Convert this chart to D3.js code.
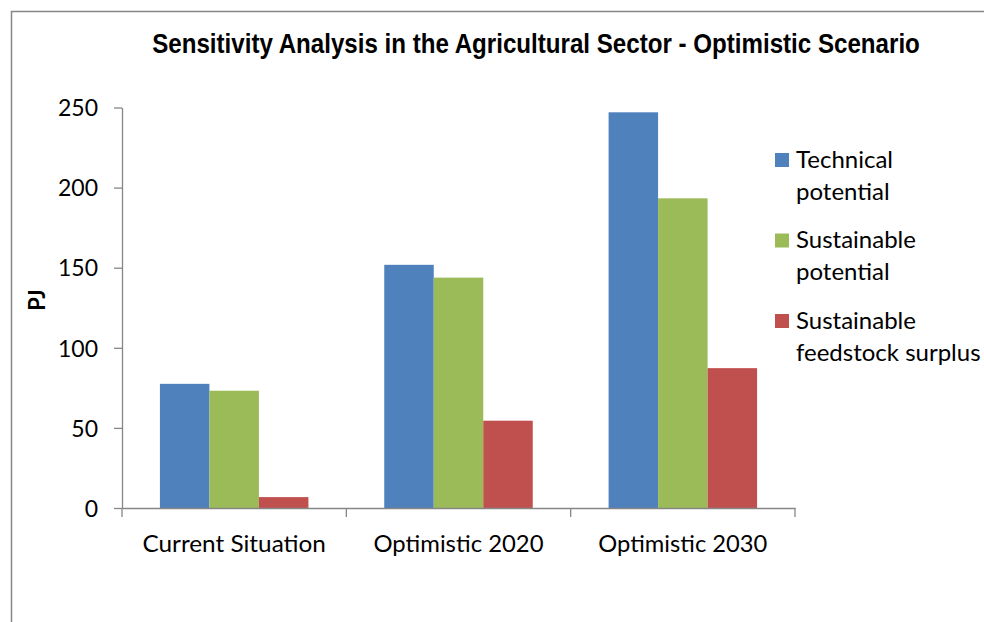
<!DOCTYPE html>
<html><head><meta charset="utf-8">
<script src="https://cdn.jsdelivr.net/npm/d3@7"></script>
<style>body{margin:0;background:#fff}svg{display:block}</style>
</head><body>
<script>
const categories = ["Current Situation", "Optimistic 2020", "Optimistic 2030"];
const seriesNames = [["Technical", "potential"], ["Sustainable", "potential"], ["Sustainable", "feedstock surplus"]];
const technical = [77.5, 151.8, 247];
const sustainable = [73.2, 143.8, 193.3];
const surplus = [6.8, 54.5, 87.3];
const yTicks = [0, 50, 100, 150, 200, 250];
const colors = ["#4F81BD", "#9BBB59", "#C0504D"];
const series = [technical, sustainable, surplus];

(function(){
const W = 984, H = 622;
const svg = d3.select("body").append("svg").attr("width", W).attr("height", H);
const font = "Lato, 'Open Sans', sans-serif";

svg.append("path").attr("d", `M11.5,${H} V11.5 H${W}`).attr("fill", "none").attr("stroke", "#868686").attr("stroke-width", 1.5);

const mL = 122, mR = 795, mT = 107.5, mB = 508;
const x = d3.scaleBand().domain(categories).range([mL, mR]).paddingInner(0).paddingOuter(0);
const inner = d3.scaleBand().domain([0,1,2]).range([0, x.bandwidth()]).paddingInner(0).paddingOuter(0.766);
const y = d3.scaleLinear().domain([0, 250]).range([mB, mT]);

series.forEach((s, si) => {
  svg.append("g").selectAll("rect").data(categories).join("rect")
    .attr("x", c => x(c) + inner(si))
    .attr("y", (c, i) => y(s[i]))
    .attr("width", inner.bandwidth())
    .attr("height", (c, i) => y(0) - y(s[i]))
    .attr("fill", colors[si]);
});

const yAxis = svg.append("g").attr("transform", `translate(${mL},0)`)
  .call(d3.axisLeft(y).tickValues(yTicks).tickSize(8).tickPadding(16).tickSizeOuter(0));
yAxis.select(".domain").attr("stroke", "#868686").attr("stroke-width", 1.3);
yAxis.selectAll(".tick line").attr("stroke", "#868686").attr("stroke-width", 1.3);
yAxis.selectAll("text").attr("font-family", font).attr("font-size", 23).attr("fill", "#000")
  .attr("dy", "0.36em");

const xAxis = svg.append("g").attr("transform", `translate(0,${mB})`)
  .call(d3.axisBottom(x).tickSize(0));
xAxis.select(".domain").attr("stroke", "#868686").attr("stroke-width", 1.3);
xAxis.selectAll("text").attr("font-family", font).attr("font-size", 23).attr("fill", "#000")
  .attr("y", 43.7).attr("dy", 0)
  .attr("textLength", (d, i) => [183.5, 170, 169][i]).attr("lengthAdjust", "spacingAndGlyphs");
const bounds = [mL].concat(categories.map(c => x(c) + x.bandwidth()));
svg.append("g").selectAll("line").data(bounds).join("line")
  .attr("x1", d => d).attr("x2", d => d).attr("y1", mB).attr("y2", mB + 9)
  .attr("stroke", "#868686").attr("stroke-width", 1.3);

const title = svg.append("text").attr("text-anchor", "middle")
  .attr("font-family", "'Liberation Sans', Arial, sans-serif").attr("font-weight", "bold")
  .attr("font-size", 27.5).attr("fill", "#000")
  .text("Sensitivity Analysis in the Agricultural Sector - Optimistic Scenario");
const tw = title.node().getComputedTextLength();
title.attr("transform", `translate(536,53.3) scale(${768 / tw},1)`);

svg.append("text").attr("transform", "translate(45,300) rotate(-90)").attr("text-anchor", "middle")
  .attr("font-family", font).attr("font-weight", "bold").attr("font-size", 22).attr("fill", "#000")
  .text("PJ");

const lg = svg.append("g");
seriesNames.forEach((n, i) => {
  const y0 = 153 + i * 80.5;
  lg.append("rect").attr("x", 775).attr("y", y0).attr("width", 14).attr("height", 14).attr("fill", colors[i]);
  const t = lg.append("text").attr("font-family", font).attr("font-size", 24).attr("fill", "#000");
  n.forEach((line, j) => t.append("tspan").attr("x", 796).attr("y", y0 + 14.5 + j * 32).text(line));
});
})();
</script>
</body></html>
